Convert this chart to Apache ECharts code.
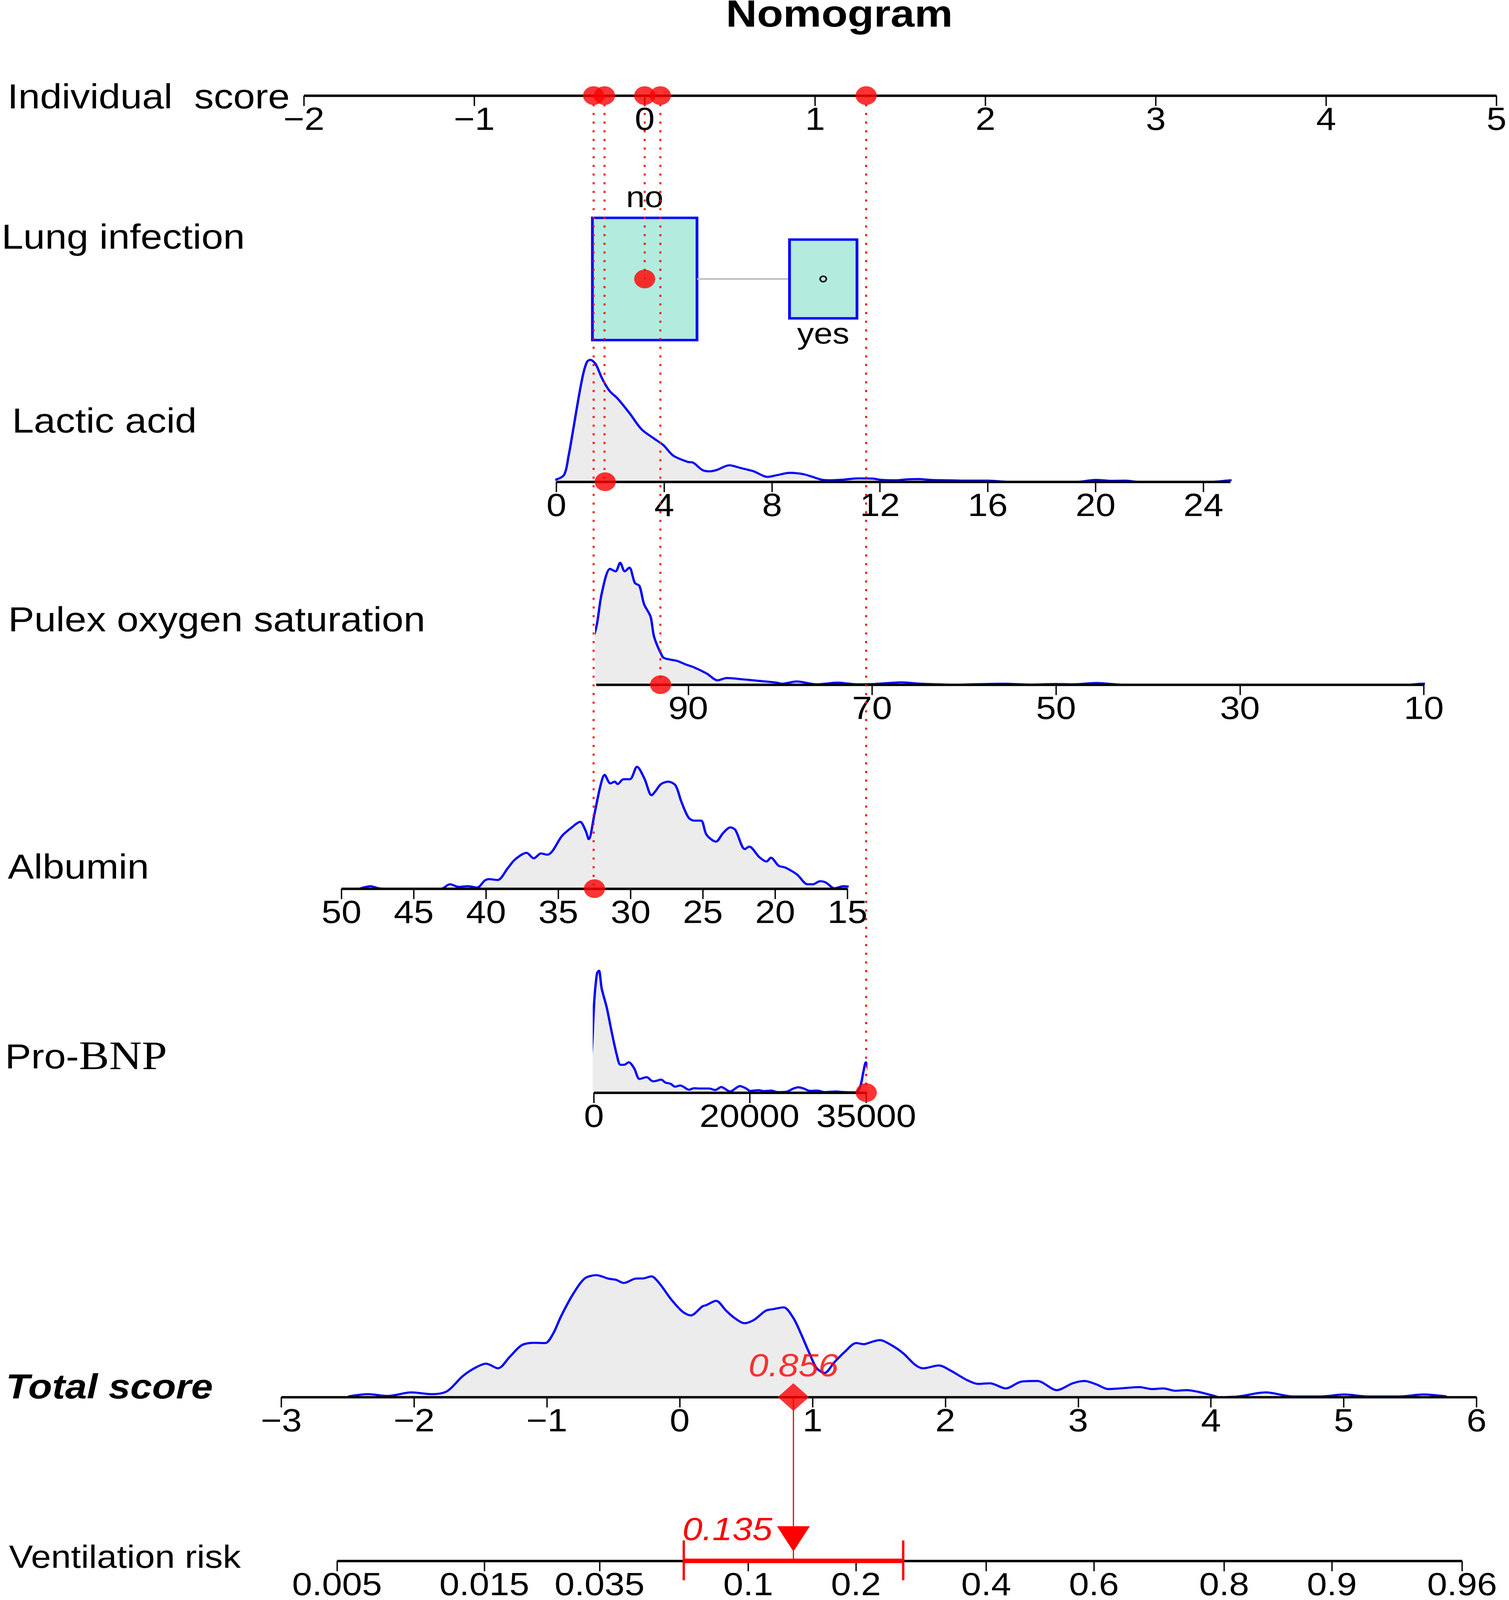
<!DOCTYPE html>
<html><head><meta charset="utf-8">
<script src="https://cdn.jsdelivr.net/npm/echarts@6/dist/echarts.min.js"></script>
<style>html,body{margin:0;padding:0;background:#fff;overflow:hidden}#c{width:3862px;height:4620px;transform-origin:0 0}</style>
</head><body><div id="c"></div>
<script>
// ---------------- data ----------------
const scoreTicks = [-2, -1, 0, 1, 2, 3, 4, 5];
const lungCategories = ['no', 'yes'];
const lungScores = [0, 1.048];
const lungBoxSize = [1, 0.645];
const lacticTicks = [0, 4, 8, 12, 16, 20, 24];
const lacticDensity = [[-0.62,0],[-0.1,0.012],[0.28,0.055],[0.45,0.21],[0.64,0.45],[0.82,0.685],[1.0,0.89],[1.14,0.986],[1.26,1.0],[1.45,0.967],[1.66,0.864],[1.81,0.8],[1.99,0.74],[2.26,0.685],[2.71,0.563],[3.16,0.43],[3.61,0.356],[3.97,0.3],[4.33,0.215],[4.87,0.163],[5.06,0.158],[5.41,0.097],[5.68,0.085],[5.95,0.097],[6.41,0.135],[6.86,0.111],[7.3,0.087],[7.84,0.04],[8.2,0.055],[8.65,0.073],[9.2,0.06],[9.83,0.017],[10.1,0.012],[10.64,0.017],[11.18,0.028],[11.72,0.026],[12.08,0.015],[12.6,0.012],[12.98,0.019],[13.43,0.022],[13.88,0.015],[14.42,0.012],[15.14,0.009],[16.0,0.009],[16.8,0],[19.3,0],[20.0,0.015],[20.6,0.008],[21.1,0.009],[21.6,0],[24.3,0],[25.1,0.012],[25.8,0]];
const pulseTicks = [90, 70, 50, 30, 10];
const pulseDensity = [[102.6,0],[102.0,0.02],[101.0,0.23],[100.0,0.47],[99.4,0.75],[98.5,0.95],[97.9,0.93],[97.4,1.0],[96.9,0.93],[96.4,0.96],[95.8,0.835],[95.3,0.81],[94.8,0.66],[94.1,0.56],[93.7,0.39],[92.8,0.23],[92.5,0.215],[91.9,0.205],[91.2,0.195],[90.3,0.167],[89.3,0.14],[88.0,0.092],[86.8,0.036],[85.8,0.055],[84.2,0.045],[82.3,0.031],[80.4,0.017],[79.8,0.008],[78.2,0.026],[76.0,0.003],[73.8,0.017],[71.6,0.003],[69.7,0.006],[66.8,0.019],[64.6,0.008],[60.8,0],[55.8,0.008],[52.6,0.001],[50.0,0.006],[48.1,0.003],[45.6,0.014],[42.8,0],[11.5,0],[10.2,0.008],[8.3,0.006],[6.8,0]];
const albuminTicks = [50, 45, 40, 35, 30, 25, 20, 15];
const albuminDensity = [[48.76,0],[48.0,0.02],[47.4,0.003],[47.0,0],[43.1,0],[42.5,0.036],[41.9,0.015],[41.25,0.02],[40.6,0.01],[40.1,0.066],[39.8,0.078],[39.2,0.071],[38.5,0.168],[38.0,0.239],[37.2,0.294],[36.7,0.249],[36.2,0.289],[35.75,0.279],[35.4,0.31],[34.76,0.431],[34.1,0.5],[33.5,0.548],[33.1,0.472],[32.9,0.406],[32.5,0.614],[32.1,0.838],[31.8,0.934],[31.4,0.863],[31.1,0.878],[30.9,0.858],[30.5,0.898],[30.05,0.898],[29.56,1.0],[29.05,0.904],[28.55,0.766],[28.27,0.802],[27.9,0.858],[27.4,0.878],[26.9,0.848],[26.5,0.716],[26.0,0.584],[25.6,0.558],[25.13,0.558],[24.75,0.442],[24.1,0.386],[23.6,0.457],[23.1,0.503],[22.76,0.482],[22.1,0.325],[21.8,0.345],[21.1,0.259],[20.6,0.223],[20.3,0.254],[19.76,0.188],[19.3,0.173],[18.5,0.117],[17.76,0.036],[17.4,0.036],[16.9,0.061],[16.5,0.051],[15.9,0.003],[15.3,0.02],[14.76,0.015],[14.1,0]];
const bnpTicks = [0, 20000, 35000];
const bnpDensity = [[-1050,0],[-750,0],[-250,0.366],[50,0.756],[400,0.98],[650,1.0],[1000,0.854],[1650,0.698],[2300,0.493],[2950,0.307],[3400,0.229],[3900,0.229],[4470,0.249],[5170,0.2],[5870,0.112],[6780,0.127],[7580,0.093],[8080,0.098],[8630,0.107],[9180,0.083],[9840,0.073],[10440,0.049],[11090,0.059],[12240,0.024],[12840,0.036],[13800,0.034],[14800,0.034],[15600,0.022],[16360,0.046],[17500,0.01],[18770,0.054],[19570,0.034],[20070,0.015],[21180,0.02],[21830,0.013],[22790,0.017],[23590,0.005],[24700,0.007],[25650,0.034],[26300,0.044],[26950,0.034],[27750,0.015],[28700,0.017],[29660,0.005],[31100,0.01],[32070,0.005],[33670,0.003],[34240,0.054],[34630,0.171],[34950,0.249],[35270,0.19],[35600,0.073],[35900,0]];
const totalTicks = [-3, -2, -1, 0, 1, 2, 3, 4, 5, 6];
const totalDensity = [[-2.496,0.005],[-2.347,0.024],[-2.199,0.009],[-2.021,0.038],[-1.873,0.024],[-1.754,0.047],[-1.636,0.17],[-1.547,0.236],[-1.458,0.274],[-1.369,0.236],[-1.28,0.33],[-1.191,0.425],[-1.102,0.445],[-1.013,0.443],[-0.954,0.519],[-0.895,0.66],[-0.806,0.84],[-0.717,0.972],[-0.628,1.0],[-0.539,0.972],[-0.48,0.962],[-0.421,0.936],[-0.332,0.972],[-0.272,0.974],[-0.213,0.99],[-0.154,0.934],[-0.065,0.802],[0.024,0.698],[0.083,0.67],[0.172,0.745],[0.202,0.755],[0.273,0.79],[0.35,0.708],[0.41,0.651],[0.487,0.606],[0.558,0.632],[0.647,0.708],[0.706,0.722],[0.783,0.736],[0.854,0.651],[0.913,0.519],[0.973,0.368],[1.032,0.236],[1.091,0.198],[1.162,0.283],[1.24,0.368],[1.329,0.443],[1.388,0.434],[1.447,0.453],[1.506,0.467],[1.595,0.425],[1.684,0.358],[1.773,0.264],[1.832,0.236],[1.951,0.259],[2.04,0.217],[2.159,0.142],[2.247,0.108],[2.336,0.113],[2.455,0.071],[2.574,0.127],[2.692,0.132],[2.84,0.057],[2.959,0.113],[3.048,0.132],[3.137,0.104],[3.226,0.066],[3.315,0.071],[3.463,0.082],[3.552,0.066],[3.641,0.071],[3.73,0.052],[3.819,0.057],[3.908,0.042],[4.026,0.009],[4.056,0],[4.204,0.005],[4.411,0.038],[4.619,0.005],[4.826,0.005],[5.004,0.021],[5.182,0.005],[5.42,0.005],[5.597,0.021],[5.775,0.005]];
const riskTicks = [0.005, 0.015, 0.035, 0.1, 0.2, 0.4, 0.6, 0.8, 0.9, 0.96];
const riskIntercept = -2.713;
const riskCI = [0.064, 0.263];
const patientLung = 'no';
const patientLactic = 1.81;
const patientPulse = 93.0;
const patientAlbumin = 32.5;
const patientBNP = 35000;
const pointNames = ['Albumin', 'Lactic acid', 'Lung infection', 'Pulex oxygen saturation', 'Pro-BNP'];
const pointScores = [-0.300, -0.236, 0, 0.092, 1.300];

// ---------------- fit the 3862x4620 design into the real viewport ----------------
(function () {
  const vh = window.innerHeight || 4620;
  const sy = Math.min(1, vh / 4620);
  if (sy < 1) document.getElementById('c').style.transform = 'scale(1,' + sy + ')';
})();

// ---------------- layout / style ----------------
const RED = '#ff0000', BLUE = '#0000ff', FILL = '#ececec', BOXFILL = '#b3ebdf';
const FONT = '"Liberation Sans", Arial, sans-serif';
const TICKFONT = 92;
const DENS_H = 352;
const LAY = {
  score:   {x0: 778,  x1: 3830, base: 276, min: -2, max: 5},
  lung:    {top: 629, bottom: 982},
  lactic:  {x0: 1424, x1: 3149, base: 1391, min: 0, max: 25},
  pulse:   {x0: 1526, x1: 3644, base: 1977, min: 10, max: 100},
  albumin: {x0: 874,  x1: 2169, base: 2566, min: 15, max: 50},
  bnp:     {x0: 1520, x1: 2217, base: 3155, min: 0, max: 35000},
  total:   {x0: 720,  x1: 3779, base: 4034, min: -3, max: 6},
  risk:    {base: 4507}
};
const logit = p => Math.log(p / (1 - p));
const riskToScore = p => logit(p) - riskIntercept;
const totalPx = s => LAY.total.x0 + (s - LAY.total.min) * (LAY.total.x1 - LAY.total.x0) / (LAY.total.max - LAY.total.min);
const riskMin = riskToScore(riskTicks[0]);
const riskMax = riskToScore(riskTicks[riskTicks.length - 1]);

const totalScore = Math.round(pointScores.reduce((a, b) => a + b, 0) * 1000) / 1000;
const riskValue = 1 / (1 + Math.exp(-(totalScore + riskIntercept)));

const fmtNum = v => (v < 0 ? '\u2212' + Math.abs(v) : String(v));
const fmtRisk = v => {
  let best = riskTicks[0], bd = Infinity;
  riskTicks.forEach(p => { const d = Math.abs(riskToScore(p) - v); if (d < bd) { bd = d; best = p; } });
  return String(best);
};

const grids = [
  {left: LAY.score.x0, width: LAY.score.x1 - LAY.score.x0, top: LAY.score.base - 100, height: 100},
  {left: LAY.score.x0, width: LAY.score.x1 - LAY.score.x0, top: LAY.lung.top, height: LAY.lung.bottom - LAY.lung.top},
  {left: LAY.lactic.x0, width: LAY.lactic.x1 - LAY.lactic.x0, top: LAY.lactic.base - DENS_H, height: DENS_H},
  {left: LAY.pulse.x0, width: LAY.pulse.x1 - LAY.pulse.x0, top: LAY.pulse.base - DENS_H, height: DENS_H},
  {left: LAY.albumin.x0, width: LAY.albumin.x1 - LAY.albumin.x0, top: LAY.albumin.base - DENS_H, height: DENS_H},
  {left: LAY.bnp.x0, width: LAY.bnp.x1 - LAY.bnp.x0, top: LAY.bnp.base - DENS_H, height: DENS_H},
  {left: LAY.total.x0, width: LAY.total.x1 - LAY.total.x0, top: LAY.total.base - DENS_H, height: DENS_H},
  {left: totalPx(riskMin), width: totalPx(riskMax) - totalPx(riskMin), top: LAY.risk.base - 100, height: 100}
].map(g => Object.assign({containLabel: false, outerBoundsMode: 'none'}, g));

function xAx(gi, min, max, ticks, extra) {
  return Object.assign({
    type: 'value', gridIndex: gi, min: min, max: max, position: 'bottom', z: 3,
    axisLine: {show: true, onZero: false, lineStyle: {color: '#000', width: 7, cap: 'butt'}},
    axisTick: {show: true, length: 30, customValues: ticks, lineStyle: {color: '#000', width: 3.5}},
    axisLabel: {show: true, customValues: ticks, fontSize: TICKFONT, fontFamily: FONT, color: '#000', margin: 28, formatter: fmtNum},
    splitLine: {show: false}
  }, extra || {});
}
const xAxes = [
  xAx(0, LAY.score.min, LAY.score.max, scoreTicks),
  {type: 'value', gridIndex: 1, min: LAY.score.min, max: LAY.score.max, show: false},
  xAx(2, LAY.lactic.min, LAY.lactic.max, lacticTicks),
  xAx(3, LAY.pulse.min, LAY.pulse.max, pulseTicks, {inverse: true}),
  xAx(4, LAY.albumin.min, LAY.albumin.max, albuminTicks, {inverse: true}),
  xAx(5, LAY.bnp.min, LAY.bnp.max, bnpTicks),
  xAx(6, LAY.total.min, LAY.total.max, totalTicks),
  xAx(7, riskMin, riskMax, riskTicks.map(riskToScore))
];
xAxes[7].axisLabel.formatter = fmtRisk;
const yAxes = grids.map((g, i) => ({type: 'value', gridIndex: i, min: i === 1 ? -0.5 : 0, max: i === 1 ? 0.5 : 1, show: false}));

function density(gi, data) {
  return {type: 'line', xAxisIndex: gi, yAxisIndex: gi, data: data, smooth: 0.3, symbol: 'none', showSymbol: false,
    clip: false, z: 2, silent: true,
    lineStyle: {color: BLUE, width: 6}, areaStyle: {color: FILL, opacity: 1}};
}
function dot(gi, pts) {
  return {type: 'scatter', xAxisIndex: gi, yAxisIndex: gi, data: pts, symbol: 'circle', symbolSize: 54,
    itemStyle: {color: RED}, z: 10, clip: false, silent: true};
}

const BOX_HW = 0.307, BOX_HH = 0.5;
const lungIdx = lungCategories.indexOf(patientLung);

const series = [
  dot(0, pointScores.map(s => [s, 0])),
  {type: 'custom', xAxisIndex: 1, yAxisIndex: 1, z: 2, clip: false, silent: true,
    data: lungCategories.map((c, i) => [lungScores[i], lungBoxSize[i], i]),
    renderItem: function (params, api) {
      const cx = api.value(0), sz = api.value(1), i = api.value(2);
      const p0 = api.coord([cx - BOX_HW * sz, BOX_HH * sz]);
      const p1 = api.coord([cx + BOX_HW * sz, -BOX_HH * sz]);
      const pc = api.coord([cx, 0]);
      const ch = [];
      if (i > 0) {
        const prevR = api.coord([lungScores[i - 1] + BOX_HW * lungBoxSize[i - 1], 0]);
        ch.push({type: 'line', shape: {x1: prevR[0], y1: pc[1], x2: p0[0], y2: pc[1]}, style: {stroke: '#bebebe', lineWidth: 5}});
      }
      ch.push({type: 'rect', shape: {x: p0[0], y: p0[1], width: p1[0] - p0[0], height: p1[1] - p0[1]},
        style: {fill: BOXFILL, stroke: BLUE, lineWidth: 7}});
      if (i !== lungIdx) {
        ch.push({type: 'circle', shape: {cx: pc[0], cy: pc[1], r: 8}, style: {fill: 'none', stroke: '#000', lineWidth: 4}});
      }
      const top = i % 2 === 0;
      ch.push({type: 'text', x: pc[0], y: top ? p0[1] - 12 : p1[1] + 6,
        style: {text: lungCategories[i], fill: '#000', fontSize: 86, fontFamily: FONT, align: 'center', verticalAlign: top ? 'bottom' : 'top'}});
      return {type: 'group', children: ch};
    }},
  dot(1, [[lungScores[lungIdx], 0]]),
  density(2, lacticDensity), dot(2, [[patientLactic, 0]]),
  density(3, pulseDensity), dot(3, [[patientPulse, 0]]),
  density(4, albuminDensity), dot(4, [[patientAlbumin, 0]]),
  density(5, bnpDensity), dot(5, [[patientBNP, 0]]),
  density(6, totalDensity),
  {type: 'scatter', xAxisIndex: 6, yAxisIndex: 6, data: [[totalScore, 0]], symbol: 'diamond', symbolSize: [80, 80],
    itemStyle: {color: RED}, z: 10, clip: false, silent: true,
    label: {show: true, position: 'top', distance: 0, formatter: () => totalScore.toFixed(3),
      color: RED, fontSize: 92, fontStyle: 'italic', fontFamily: FONT}},
  {type: 'custom', xAxisIndex: 7, yAxisIndex: 7, z: 6, clip: false, silent: true,
    data: [[totalScore, riskToScore(riskCI[0]), riskToScore(riskCI[1]), riskValue]],
    renderItem: function (params, api) {
      const c = api.coord([api.value(0), 0]);
      const lo = api.coord([api.value(1), 0]);
      const hi = api.coord([api.value(2), 0]);
      return {type: 'group', children: [
        {type: 'line', shape: {x1: lo[0], y1: c[1], x2: hi[0], y2: c[1]}, style: {stroke: RED, lineWidth: 13}},
        {type: 'line', shape: {x1: lo[0], y1: c[1] - 59, x2: lo[0], y2: c[1] + 56}, style: {stroke: RED, lineWidth: 6}},
        {type: 'line', shape: {x1: hi[0], y1: c[1] - 59, x2: hi[0], y2: c[1] + 56}, style: {stroke: RED, lineWidth: 6}},
        {type: 'polygon', shape: {points: [[c[0] - 42, c[1] - 100], [c[0] + 42, c[1] - 100], [c[0], c[1] - 27]]}, style: {fill: RED}},
        {type: 'text', x: c[0] - 54, y: c[1] - 86, style: {text: api.value(3).toFixed(3), fill: RED, fontSize: 92,
          fontStyle: 'italic', fontFamily: FONT, align: 'right', verticalAlign: 'middle'}}
      ]};
    }}
];

const leftLabels = [
  {text: 'Individual  score', x: 19, y: 285},
  {text: 'Lung infection', x: 4, y: 690},
  {text: 'Lactic acid', x: 31, y: 1221},
  {text: 'Pulex oxygen saturation', x: 21, y: 1795},
  {text: 'Albumin', x: 20, y: 2509}
];
const graphics = leftLabels.map(l => ({type: 'text', x: l.x, y: l.y, silent: true,
  style: {text: l.text, fill: '#000', fontSize: 100, fontFamily: FONT, align: 'left', verticalAlign: 'middle'}}));
graphics.push({type: 'text', x: 13, y: 3057, silent: true,
  style: {text: '{a|Pro-}{b|BNP}', fill: '#000', align: 'left', verticalAlign: 'middle',
    rich: {a: {fontSize: 100, fontFamily: FONT, fill: '#000'}, b: {fontSize: 116, fontFamily: '"Liberation Serif", "DejaVu Serif", serif', fill: '#000'}}}});
graphics.push({type: 'text', x: 15, y: 4010, silent: true,
  style: {text: 'Total score', fill: '#000', fontSize: 100, fontWeight: 'bold', fontStyle: 'italic', fontFamily: FONT, align: 'left', verticalAlign: 'middle'}});
graphics.push({type: 'text', x: 23, y: 4502, silent: true,
  style: {text: 'Ventilation risk', fill: '#000', fontSize: 92, fontFamily: FONT, align: 'left', verticalAlign: 'middle'}});
graphics.push({type: 'text', x: 2148, y: 47, silent: true,
  style: {text: 'Nomogram', fill: '#000', fontSize: 110, fontWeight: 'bold', fontFamily: FONT, align: 'center', verticalAlign: 'middle'}});

const chart = echarts.init(document.getElementById('c'), null, {renderer: 'canvas', width: 3862, height: 4620});
chart.setOption({animation: false, backgroundColor: '#fff', grid: grids, xAxis: xAxes, yAxis: yAxes, series: series, graphic: graphics});

// red dotted guide lines, positioned through the axes' scales
const targets = [[4, patientAlbumin], [2, patientLactic], [1, lungScores[lungIdx]], [3, patientPulse], [5, patientBNP]];
pointScores.forEach((s, i) => {
  const top = chart.convertToPixel({gridIndex: 0}, [s, 0]);
  const bot = chart.convertToPixel({gridIndex: targets[i][0]}, [targets[i][1], 0]);
  graphics.push({type: 'line', z: 5, silent: true, shape: {x1: top[0], y1: top[1], x2: top[0], y2: bot[1]},
    style: {stroke: RED, lineWidth: 5, lineDash: [6, 19]}});
});
const tp = chart.convertToPixel({gridIndex: 6}, [totalScore, 0]);
const rp = chart.convertToPixel({gridIndex: 7}, [totalScore, 0]);
graphics.push({type: 'line', z: 5, silent: true, shape: {x1: tp[0], y1: tp[1], x2: rp[0], y2: rp[1]},
  style: {stroke: RED, lineWidth: 3}});
chart.setOption({graphic: graphics});
</script></body></html>
